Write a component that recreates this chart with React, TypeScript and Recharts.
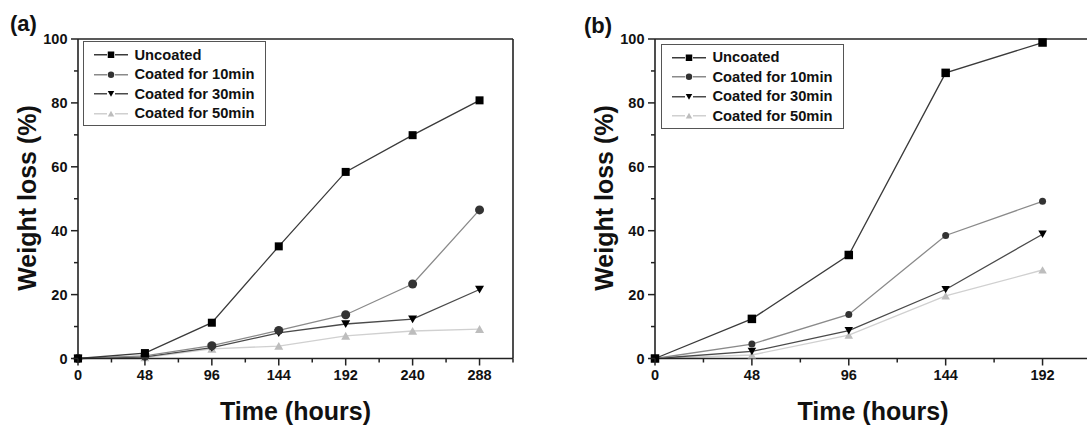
import React from 'react';
import { LineChart, Line, XAxis, YAxis, ReferenceLine } from 'recharts';

const FONT = '"Liberation Sans", Arial, Helvetica, sans-serif';

const seriesNames = ['Uncoated', 'Coated for 10min', 'Coated for 30min', 'Coated for 50min'];

// Panel (a)
const hoursA = [0, 48, 96, 144, 192, 240, 288];
const uncoatedA = [0, 1.7, 11.2, 35.1, 58.4, 69.9, 80.8];
const coated10A = [0, 0.8, 4.0, 8.8, 13.7, 23.3, 46.5];
const coated30A = [0, 0.5, 3.4, 8.0, 10.8, 12.3, 21.6];
const coated50A = [0, 0.3, 3.0, 3.9, 7.1, 8.6, 9.2];

// Panel (b)
const hoursB = [0, 48, 96, 144, 192];
const uncoatedB = [0, 12.4, 32.4, 89.4, 98.9];
const coated10B = [0, 4.5, 13.8, 38.5, 49.2];
const coated30B = [0, 2.2, 8.7, 21.6, 38.9];
const coated50B = [0, 1.1, 7.3, 19.6, 27.7];

const xTicksA = [0, 24, 48, 72, 96, 120, 144, 168, 192, 216, 240, 264, 288, 312];
const xTicksB = [0, 24, 48, 72, 96, 120, 144, 168, 192, 216];
const yTicks = [0, 10, 20, 30, 40, 50, 60, 70, 80, 90, 100];
const xMaxA = 312;
const xMaxB = 216;

const seriesStyles = [
  { line: '#3a3a3a', fill: '#000000', shape: 'square' },
  { line: '#8a8a8a', fill: '#333333', shape: 'circle' },
  { line: '#4a4a4a', fill: '#000000', shape: 'down' },
  { line: '#d0d0d0', fill: '#bdbdbd', shape: 'up' },
];

const buildRows = (hours: number[], s: number[][]) =>
  hours.map((h, i) => ({ h, s0: s[0][i], s1: s[1][i], s2: s[2][i], s3: s[3][i] }));

const rowsA = buildRows(hoursA, [uncoatedA, coated10A, coated30A, coated50A]);
const rowsB = buildRows(hoursB, [uncoatedB, coated10B, coated30B, coated50B]);

function Marker({ shape, cx, cy, size, fill }: any) {
  const h = size / 2;
  if (shape === 'square') return <rect x={cx - h} y={cy - h} width={size} height={size} fill={fill} />;
  if (shape === 'circle') return <circle cx={cx} cy={cy} r={h} fill={fill} />;
  if (shape === 'down')
    return <polygon points={`${cx - h},${cy - h * 0.85} ${cx + h},${cy - h * 0.85} ${cx},${cy + h * 0.9}`} fill={fill} />;
  return <polygon points={`${cx - h},${cy + h * 0.85} ${cx + h},${cy + h * 0.85} ${cx},${cy - h * 0.9}`} fill={fill} />;
}

const AXIS = '#222';

const XTick = (props: any) => {
  const { x, y, payload } = props;
  const v = payload.value;
  const major = v % 48 === 0;
  return (
    <g>
      <line x1={x} x2={x} y1={y} y2={y + (major ? 7 : 4)} stroke={AXIS} strokeWidth={1.5} />
      {major && (
        <text x={x} y={y + 16.5} textAnchor="middle" dominantBaseline="central" fontFamily={FONT} fontWeight="bold" fontSize={14.5} fill="#111">
          {v}
        </text>
      )}
    </g>
  );
};

const YTick = (props: any) => {
  const { x, y, payload } = props;
  const v = payload.value;
  const major = v % 20 === 0;
  return (
    <g>
      <line x1={x} x2={x - (major ? 7 : 4)} y1={y} y2={y} stroke={AXIS} strokeWidth={1.5} />
      {major && (
        <text x={x - 10.5} y={y} textAnchor="end" dominantBaseline="central" fontFamily={FONT} fontWeight="bold" fontSize={14.5} fill="#111">
          {v}
        </text>
      )}
    </g>
  );
};

function Panel({ rows, xTicks, xMax, width, yAxisWidth, marginRight, sizes }: any) {
  const order = [3, 2, 1, 0];
  return (
    <LineChart width={width} height={428} data={rows} margin={{ top: 39, right: marginRight, bottom: 39.5, left: 0 }}>
      <XAxis
        dataKey="h"
        type="number"
        domain={[0, xMax]}
        ticks={xTicks}
        interval={0}
        height={30}
        tickSize={0}
        tickMargin={0}
        tickLine={false}
        tick={<XTick />}
        axisLine={{ stroke: AXIS, strokeWidth: 1.6 }}
      />
      <YAxis
        type="number"
        domain={[0, 100]}
        ticks={yTicks}
        interval={0}
        width={yAxisWidth}
        tickSize={0}
        tickMargin={0}
        tickLine={false}
        tick={<YTick />}
        axisLine={{ stroke: AXIS, strokeWidth: 1.6 }}
      />
      <ReferenceLine y={100} stroke={AXIS} strokeWidth={1.6} />
      <ReferenceLine x={xMax} stroke={AXIS} strokeWidth={1.6} />
      {order.map((i) => {
        const st = seriesStyles[i];
        return (
          <Line
            key={i}
            dataKey={`s${i}`}
            type="linear"
            stroke={st.line}
            strokeWidth={1.3}
            isAnimationActive={false}
            dot={(p: any) => <Marker key={`d${i}-${p.index}`} shape={st.shape} cx={p.cx} cy={p.cy} size={sizes[i]} fill={st.fill} />}
            activeDot={false}
          />
        );
      })}
    </LineChart>
  );
}

function LegendBox({ left, top }: { left: number; top: number }) {
  return (
    <div
      style={{
        position: 'absolute',
        left,
        top,
        width: 183,
        height: 85,
        boxSizing: 'border-box',
        border: '1.5px solid #555',
        background: '#fff',
        paddingTop: 3,
        fontFamily: FONT,
      }}
    >
      {seriesNames.map((name, i) => {
        const st = seriesStyles[i];
        return (
          <div key={name} style={{ height: 19.5, display: 'flex', alignItems: 'center' }}>
            <svg width={50} height={19.5} style={{ flex: 'none' }}>
              <line x1={10} x2={44} y1={9.75} y2={9.75} stroke={st.line} strokeWidth={1.3} />
              <rect x={23} y={5} width={8} height={9.5} fill="#fff" />
              <Marker shape={st.shape} cx={27} cy={9.75} size={6.5} fill={st.fill} />
            </svg>
            <span style={{ fontWeight: 'bold', fontSize: 14.7, color: '#111', whiteSpace: 'nowrap', marginLeft: 1 }}>{name}</span>
          </div>
        );
      })}
    </div>
  );
}

export default function App() {
  return (
    <div style={{ position: 'fixed', left: 0, top: 0, width: 1087, height: 428, overflow: 'hidden', background: '#fff' }}>
      <div style={{ position: 'absolute', left: 0, top: 0 }}>
        <Panel rows={rowsA} xTicks={xTicksA} xMax={xMaxA} width={540} yAxisWidth={78} marginRight={27} sizes={[8, 9, 9, 9]} />
      </div>
      <div style={{ position: 'absolute', left: 560, top: 0, width: 527, height: 428, overflow: 'hidden' }}>
        <Panel rows={rowsB} xTicks={xTicksB} xMax={xMaxB} width={560} yAxisWidth={95} marginRight={29} sizes={[8.5, 7, 8.5, 8.5]} />
      </div>
      <svg width={1087} height={428} style={{ position: 'absolute', left: 0, top: 0, pointerEvents: 'none' }}>
        <g fontFamily={FONT} fontWeight="bold" fill="#111">
          <text x={23.5} y={23} fontSize={22} textAnchor="middle" dominantBaseline="central">(a)</text>
          <text x={598} y={25} fontSize={22} textAnchor="middle" dominantBaseline="central">(b)</text>
          <text x={27} y={198} fontSize={25} textAnchor="middle" dominantBaseline="central" transform="rotate(-90 27 198)">Weight loss (%)</text>
          <text x={604} y={198} fontSize={25} textAnchor="middle" dominantBaseline="central" transform="rotate(-90 604 198)">Weight loss (%)</text>
          <text x={295.5} y={411} fontSize={25} textAnchor="middle" dominantBaseline="central">Time (hours)</text>
          <text x={873} y={411} fontSize={25} textAnchor="middle" dominantBaseline="central">Time (hours)</text>
        </g>
      </svg>
      <LegendBox left={82.5} top={41} />
      <LegendBox left={660.5} top={43.5} />
    </div>
  );
}
